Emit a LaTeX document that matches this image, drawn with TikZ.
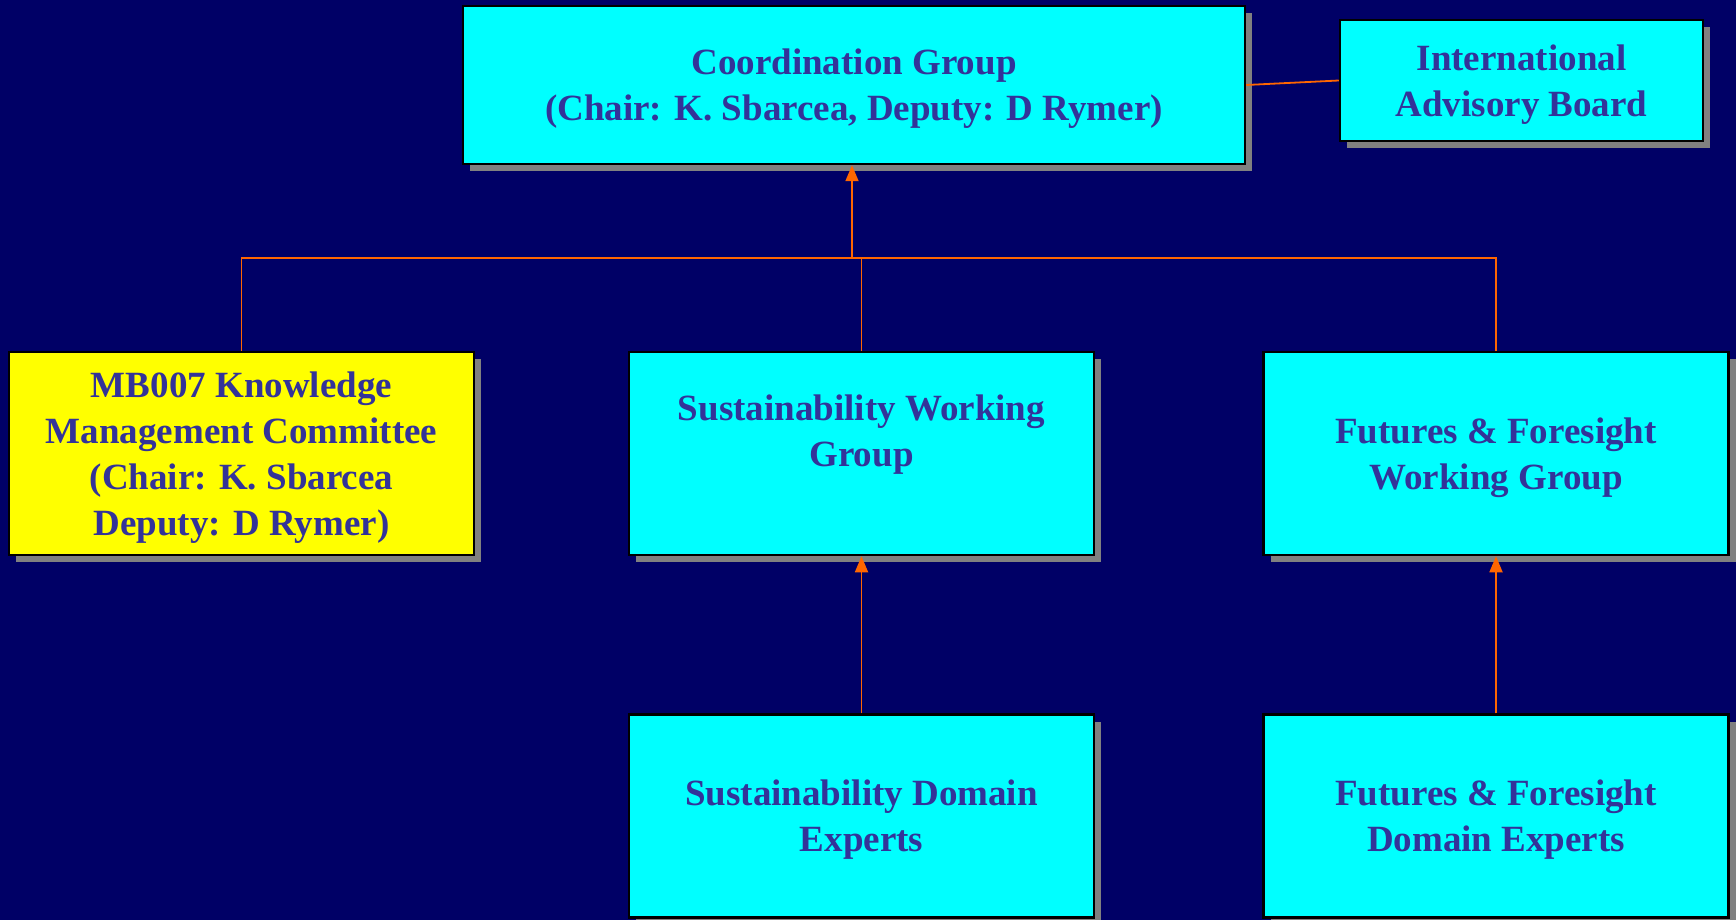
\documentclass[tikz,border=0pt]{standalone}
\usepackage{fontspec}
\setmainfont{Liberation Serif}
\usetikzlibrary{arrows.meta,shadows}
\definecolor{bgnavy}{HTML}{000066}
\definecolor{boxcyan}{HTML}{00FFFF}
\definecolor{boxyellow}{HTML}{FFFF00}
\definecolor{textpurple}{HTML}{333399}
\definecolor{linkorange}{HTML}{FF6600}
\definecolor{shadowgray}{HTML}{808080}
\begin{document}
\begin{tikzpicture}
[x=1pt,y=-1pt,
  boxdecorate/.style={draw=black,line width=2.5pt,fill=boxcyan,
    text=textpurple,align=center,inner sep=0pt,text depth=0pt,
    font=\fontsize{37}{46}\selectfont\bfseries,
    drop shadow={shadow xshift=7pt,shadow yshift=-7pt,
      fill=shadowgray,opacity=1}},%
  wgdecorate/.style={boxdecorate,minimum width=465pt,minimum height=203pt},%
  linedecorate/.style={-,line width=1.8pt,draw=linkorange},%
  arrowdecorate/.style={linedecorate,-{Triangle[length=16pt,width=13pt]}}]
%% background
\useasboundingbox (0,0) rectangle (1736,920);
\fill[bgnavy] (0,0) rectangle (1736,920);
%% nodes or vertices
\node (cg) at (854,85) [boxdecorate,minimum width=782pt,minimum height=158pt]
  {Coordination Group\\(Chair: K. Sbarcea, Deputy: D Rymer)};
\node (iab) at (1521.5,80.5) [boxdecorate,minimum width=363pt,minimum height=121pt]
  {International\\Advisory Board};
\node (mb) at (241.5,453.5) [wgdecorate,fill=boxyellow]
  {MB007 Knowledge\\Management Committee\\(Chair: K. Sbarcea\\Deputy: D Rymer)};
\foreach \nodename/\code/\x/\y in {swg/{Sustainability Working\\Group\\~}/861.5/453.5,
  fwg/{Futures \& Foresight\\Working Group}/1496/453.5,
  sde/{Sustainability Domain\\Experts}/861.5/816,
  fde/{Futures \& Foresight\\Domain Experts}/1496/816} {
  \node (\nodename) at (\x,\y) [wgdecorate] {\code};
}
\coordinate (hub) at (852,258);
%% edges or lines
\draw[linedecorate] (cg.east) -- (iab.west);
\draw[linedecorate] (mb.north) -- (mb.north |- hub) -- (fwg.north |- hub) -- (fwg.north);
\draw[linedecorate] (swg.north) -- (swg.north |- hub);
\draw[arrowdecorate] (hub) -- (hub |- cg.south);
\path
\foreach \startnode/\endnode in {sde/swg, fde/fwg} {
  (\startnode) edge[arrowdecorate] (\endnode)
};
\end{tikzpicture}
\end{document}
